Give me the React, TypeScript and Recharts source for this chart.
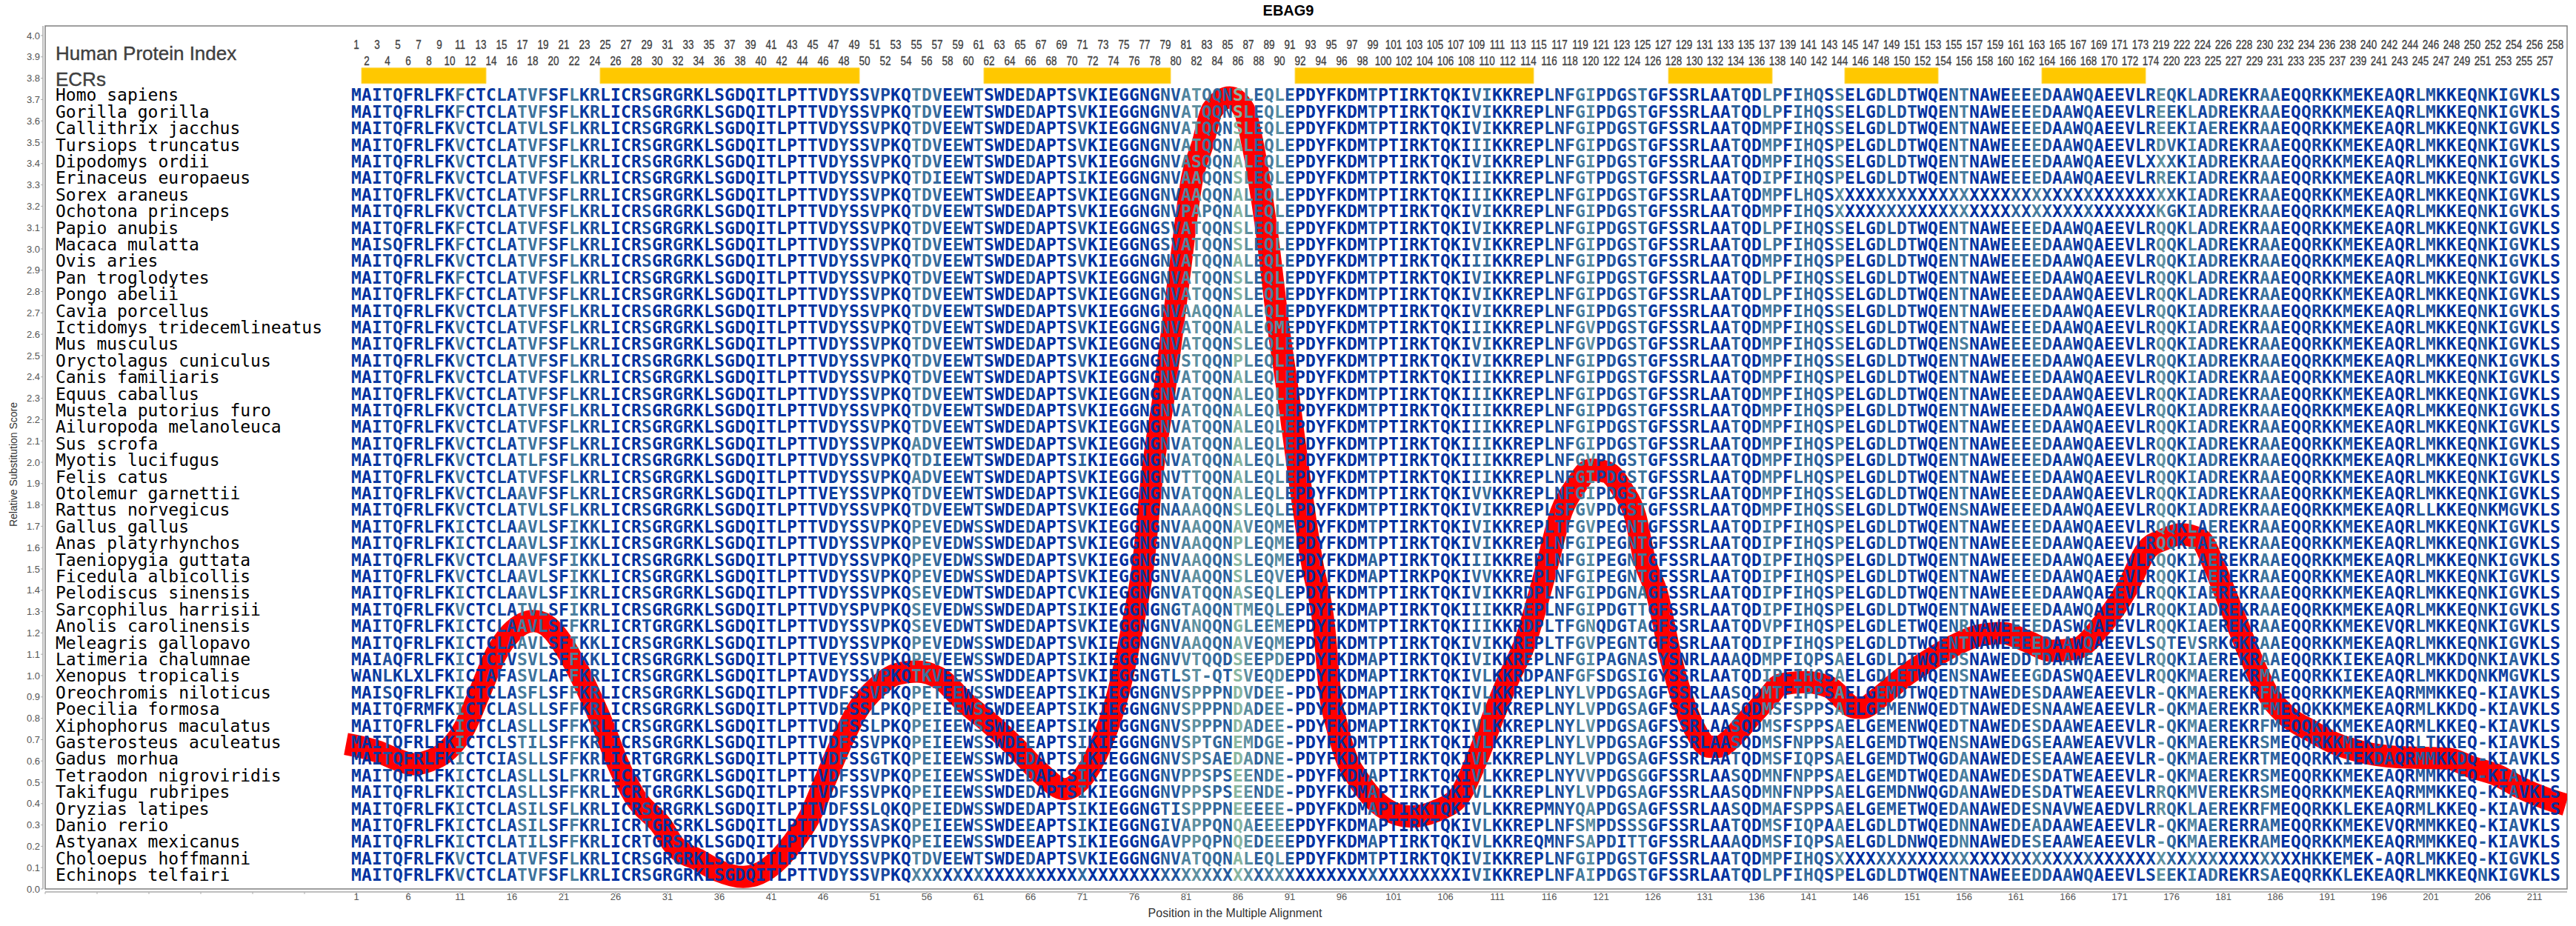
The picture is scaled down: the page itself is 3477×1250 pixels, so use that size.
import React from "react";
import { ComposedChart, Line, Scatter, XAxis, YAxis, ReferenceArea } from "recharts";

const species = ["Homo sapiens","Gorilla gorilla","Callithrix jacchus","Tursiops truncatus","Dipodomys ordii","Erinaceus europaeus","Sorex araneus","Ochotona princeps","Papio anubis","Macaca mulatta","Ovis aries","Pan troglodytes","Pongo abelii","Cavia porcellus","Ictidomys tridecemlineatus","Mus musculus","Oryctolagus cuniculus","Canis familiaris","Equus caballus","Mustela putorius furo","Ailuropoda melanoleuca","Sus scrofa","Myotis lucifugus","Felis catus","Otolemur garnettii","Rattus norvegicus","Gallus gallus","Anas platyrhynchos","Taeniopygia guttata","Ficedula albicollis","Pelodiscus sinensis","Sarcophilus harrisii","Anolis carolinensis","Meleagris gallopavo","Latimeria chalumnae","Xenopus tropicalis","Oreochromis niloticus","Poecilia formosa","Xiphophorus maculatus","Gasterosteus aculeatus","Gadus morhua","Tetraodon nigroviridis","Takifugu rubripes","Oryzias latipes","Danio rerio","Astyanax mexicanus","Choloepus hoffmanni","Echinops telfairi"];

const segA = [
"MAITQFRLFKFCTCLATVFSFLKRLICRSGRGRKLS",
"MAITQFRLFKFCTCLATVFSFLKRLICRSGRGRKLS",
"MAITQFRLFKVCTCLATVLSFLKRLICRSGRGRKLS",
"MAITQFRLFKVCTCLATVFSFLKRLICRSGRGRKLS",
"MAITQFRLFKVCTCLATVFSFLKRLICRSGRGRKLS",
"MAITQFRLFKVCTCLATVFSFLKRLICRSGRGRKLS",
"MAITQFRLFKVCTCLATVFSFLRRLICRSGRGRKLS",
"MAITQFRLFKVCTCLATVFSFLKRLICRSGRGRKLS",
"MAITQFRLFKFCTCLATVFSFLKRLICRSGRGRKLS",
"MAISQFRLFKFCTCLATVFSFLKRLICRSGRGRKLS",
"MAITQFRLFKVCTCLATVFSFLKRLICRSGRGRKLS",
"MAITQFRLFKFCTCLATVFSFLKRLICRSGRGRKLS",
"MAITQFRLFKFCTCLATVFSFLKRLICRSGRGRKLS",
"MAITQFRLFKVCTCLATVFSFLKRLICRSGRGRKLS",
"MAITQFRLFKVCTCLATVFSFLKRLICRSGRGRKLS",
"MAITQFRLFKVCTCLATVFSFLKRLICRSGRGRKLS",
"MAITQFRLFKVCTCLATVFSFLKRLICRSGRGRKLS",
"MAITQFRLFKVCTCLATVFSFLKRLICRSGRGRKLS",
"MAITQFRLFKVCTCLATVFSFLKRLICRSGRGRKLS",
"MAITQFRLFKVCTCLATVFSFLKRLICRSGRGRKLS",
"MAITQFRLFKVCTCLATVFSFLKRLICRSGRGRKLS",
"MAITQFRLFKVCTCLATVFSFLKRLICRSGRGRKLS",
"MAITQFRLFKVCTCLATLFSFLKRLICRSGRGRKLS",
"MAITQFRLFKVCTCLATVFSFLKRLICRSGRGRKLS",
"MAITQFRLFKVCTCLAAVFSFLKRLICRSGRGRKLS",
"MAITQFRLFKVCTCLATVLSFLKRLICRSGRGRKLS",
"MAITQFRLFKICTCLAAVLSFIKKLICRSGRGRKLS",
"MAITQFRLFKICTCLAAVLSFIKKLICRSGRGRKLS",
"MAITQFRLFKVCTCLAAVFSFIKKLICRSGRGRKLS",
"MAITQFRLFKVCTCLAAVLSFIKKLICRSGRGRKLS",
"MAITQFRLFKICTCLAAVLSFIKRLICRSGRGRKLS",
"MAITQFRLFKVCTCLATVLSFIKRLICRSGRGRKLS",
"MAITQFRLFKICTCLAAVLSFFKRLICRTGRGRKLS",
"MAITQFRLFKICTCLAAVLSFIKKLICRSGRGRKLS",
"MAIAQFRLFKICTCIVSVLSFFKKLICRSGRGRKLS",
"WANLKLXLFKICTAFASVLAFFKRLICRSGRGRKLS",
"MAISQFRLFKICTCLASFLSFFKRLICRSGRGRKLS",
"MAITQFRMFKICTCLASLLSFFKRLICRSGRGRKLS",
"MAITQFRLFKICTCLASLLSFFKRLICRSGRGRKLS",
"MAITQFRLFKICTCLSTILSFFKRLICRSGRGRKLS",
"MAITQFRLFKICTCIASLLSFFKRLICRTGRGRKLS",
"MAITQFRLFKICTCLASLLSLFKRLICRTGRGRKLS",
"MAITQFRLFKICTCLASLLSFFKRLICRTGRGRKLS",
"MAITQFRLFKICTCLASILSFLKRLICRSGRGRKLS",
"MAITQFRLFKICTCLASILSFFKRLICRTGRSRKLS",
"MAITQFRLFKICTCLATILSFFKRLICRTGRSRKLS",
"MAITQFRLFKVCTCLATVFSFLKRLICRSGRGRKLS",
"MAITQFRLFKVCTCLATVFSFLKRLICRSGRGRKLS",
];

const segB = [
"GDQITLPTTVDYSSVPKQTDVEEWTSWDEDAPTSV",
"GDQITLPTTVDYSSVPKQTDVEEWTSWDEDAPTSV",
"GDQITLPTTVDYSSVPKQTDVEEWTSWDEDAPTSV",
"GDQITLPTTVDYSSVPKQTDVEEWTSWDEDAPTSV",
"GDQITLPTTVDYSSVPKQTDVEEWTSWDEDAPTSV",
"GDQITLPTTVDYSSVPKQTDIEEWTSWDEDAPTSI",
"GDQITLPTTVDYSSVPKQTDVEEWTSWDEEAPTSV",
"GDQITLPTTVDYSSVPKQTDVEEWTSWDEDAPTSV",
"GDQITLPTTVDYSSVPKQTDVEEWTSWDEDAPTSV",
"GDQITLPTTVDYSSVPKQTDVEEWTSWDEDAPTSV",
"GDQITLPTTVDYSSVPKQTDVEEWTSWDEDAPTSV",
"GDQITLPTTVDYSSVPKQTDVEEWTSWDEDAPTSV",
"GDQITLPTTVDYSSVPKQTDVEEWTSWDEDAPTSV",
"GDQITLPTTVDYSSVPKQTDVEEWTSWDEDAPTSV",
"GDQITLPTTVDYSSVPKQTDVEEWTSWDEDAPTSV",
"GDQITLPTTVDYSSVPKQTDVEEWTSWDEDAPTSV",
"GDQITLPTTVDYSSVPKQTDVEEWTSWDEDAPTSV",
"GDQITLPTTVDYSSVPKQTDVEEWTSWDEDAPTSV",
"GDQITLPTTVDYSSVPKQTDVEEWTSWDEDAPTSV",
"GDQITLPTTVDYSSVPKQTDVEEWTSWDEDAPTSV",
"GDQITLPTTVDYSSVPKQTDVEEWTSWDEDAPTSV",
"GDQITLPTTVDYSSVPKQADVEEWTSWDEDAPTSV",
"GDQITLPTTVDYSSVPKQTDIEEWTSWDEDAPTSI",
"GDQITLPTTVDYSSVPKQADVEEWTSWDEDAPTSV",
"GDQITLPTTVEYSSVPKQTDVEEWTSWDEDAPTSV",
"GDQITLPTTVDYSSVPKQTDVEEWTSWDEDAPTSV",
"GDQITLPTTVDYSSVPKQPEVEDWSSWDEDAPTSV",
"GDQITLPTTVDYSSVPKQPEVEDWSSWDEDAPTSV",
"GDQITLPTTVDYSSVPKQPEVEDWSSWDEDAPTSV",
"GDQITLPTTVDYSSVPKQPEVEDWSSWDEDAPTSV",
"GDQITLPTTVDYSSVPKQSEVEDWTSWDEDAPTCV",
"GDQITLPTTVDYSPVPKQSEVEDWSSWDEDAPTSI",
"GDQITLPTTVDYSSVPKQSEVEDWTSWDEDAPTSV",
"GDQITLPTTVDYSSVPKQPEVEDWSSWDEDAPTSV",
"GDQITLPTTVEYSSVPKQPEVEEWSSWDEDAPTSI",
"GDQITLPTAVDYSSVPKQTKVEEWSSWDDEAPTSV",
"GDQITLPTTVDFSSVPKQPETEEWSSWDEEAPTSI",
"GDQITLPTTVDFSSLPKQPEIEEWSSWDEEAPTSI",
"GDQITLPTTVDFSSLPKQPEIEEWSSWDEEAPTSI",
"GDQITLPTTVDFSSVPKQPEIEEWSSWDEEAPTSI",
"GDQITLPTTVDFSSGTKQPEIEEWSSWDEDAPTSI",
"GDQITLPTTVDFSSVPKQPEIEEWSSWDEDAPTSI",
"GDQITLPTTVDFSSVPKQPEIEEWSSWDEDAPTSI",
"GDQITLPTTVDFSSLQKQPEIEDWSSWDEDAPTSI",
"GDQITLPTTVDYSSASKQPEIEEWSSWDEEAPTSI",
"GDQITLPTTVDYSSVPKQPEIEEWSSWDEEAPTSI",
"GDQITLPTTVDYSSVPKQTDVEEWTSWDEDAPTSV",
"GDQITLPTTVDYSSVPKQXXXXXXXXXXXXXXXXX",
];

const segC = [
"KIEGGNGNVATQQNSLEQLEPDYFKDMTPTIRKTQK",
"KIEGGNGNVATQQNSLEQLEPDYFKDMTPTIRKTQK",
"KIEGGNGNVATQQNSLEQLEPDYFKDMTPTIRKTQK",
"KIEGGNGNVATQQNALEQLEPDYFKDMTPTIRKTQK",
"KIEGGNGNVASQQNALEQLEPDYFKDMTPTIRKTQK",
"KIEGGNGNVAAQQNSLEQLEPDYFKDMTPTIRKTQK",
"KIEGGNGNVAAQQNALEQLEPDYFKDMTPTIRKTQK",
"KIEGGNGNVPAPQNALEQLEPDYFKDMTPTIRKTQK",
"KIEGGNGSVATQQNSLEQLEPDYFKDMTPTIRKTQK",
"KIEGGNGSVATQQNSLEQLEPDYFKDMTPTIRKTQK",
"KIEGGNGNVATQQNALEQLEPDYFKDMTPTIRKTQK",
"KIEGGNGNVATQQNSLEQLEPDYFKDMTPTIRKTQK",
"KIEGGNGNVATQQNSLEQLEPDYFKDMTPTIRKTQK",
"KIEGGNGNVAAQQNALEQLEPDYFKDMTPTIRKTQK",
"KIEGGNGNVATQQNALEQMEPDYFKDMTPTIRKTQK",
"KIEGGNGNVATQQNSLEQLEPDYFKDMTPTIRKTQK",
"KIEGGNGNVSTQQNPLEQLEPDYFKDMTPTIRKTQK",
"KIEGGNGNVATQQNALEQLEPDYFKDMTPTIRKTQK",
"KIEGGNGNVATQQNALEQLEPDYFKDMTPTIRKTQK",
"KIEGGNGNVATQQNALEQLEPDYFKDMTPTIRKTQK",
"KIEGGNGNVATQQNALEQLEPDYFKDMTPTIRKTQK",
"KIEGGNGNVATQQNALEQLEPDYFKDMTPTIRKTQK",
"KIEGGNGNVATQQNALEQLEPDYFKDMTPTIRKTQK",
"KIEGGNGNVTTQQNALEQLEPDYFKDMTPTIRKTQK",
"KIEGGNGNVATQQNALEQLEPDYFKDMTPTIRKTQK",
"KIEGGTGNAAAQQNSLEQLEPDYFKDMTPTIRKTQK",
"KIEGGNGNVAAQQNAVEQMEPDYFKDMTPTIRKTQK",
"KIEGGNGNVAAQQNPLEQMEPDYFKDMTPTIRKTQK",
"KIEGGNGNVAAQQNSLEQMEPDYFKDMAPTIRKTQK",
"KIEGGNGNVAAQQNSLEQVEPDYFKDMAPTIRKPQK",
"KIEGGNGNVATQQNASEQLEPDYFKDMTPTIRKTQK",
"KIEGGNGNGTAQQNTMEQLEPDYFKDMAPTIRKTQK",
"KIEGGNGNVANQQNGLEEMEPDYFKDMTPTIRKTQK",
"KIEGGNGNVAAQQNAVEQMEPDYFKDMTPTIRKTQK",
"KIEGGNGNVVTQQDSEEPDEPDYFKDMAPTIRKTQK",
"KIEGGNGTLST-QTSVEQDEPDYFKDMAPTIRKTQK",
"KIEGGNGNVSPPPNDVDEE-PDYFKDMAPTIRKTQK",
"KIEGGNGNVSPPPNDADEE-PDYFKDMAPTIRKTQK",
"KIEGGNGNVSPPPNDADEE-PDYFKDMAPTIRKTQK",
"KIEGGNGNVSPTGNEMDGE-PDYFKDMTPTIRKTQK",
"KIEGGNGNVSPSAEDADNE-PDYFKDMTPTIRKTQK",
"KIEGGNGNVPPSPSEENDE-PDYFKDMAPTIRKTQK",
"KIEGGNGNVPPSPSEENDE-PDYFKDMAPTIRKTQK",
"KIEGGNGTISPPPNEEEEE-PDYFKDMAPTIRKTQK",
"KIEGGNGIVAPPQNQAEEEEPDYFKDMAPTIRKTQK",
"KIEGGNGAVPPQPNQEDEEEPDYFKDMAPTIRKTQK",
"KIEGGNGNVATQQNALEQLEPDYFKDMTPTIRKTQK",
"XXXXXXXXXXXXXXXXXXXXXXXXXXXXXXXXXXXX",
];

const segD = [
"IVIKKREPLNFGIPDGSTGFSSRLAATQDLPFIHQS",
"IVIKKREPLNFGIPDGSTGFSSRLAATQDLPFIHQS",
"IVIKKREPLNFGIPDGSTGFSSRLAATQDMPFIHQS",
"IIIKKREPLNFGIPDGSTGFSSRLAATQDMPFIHQS",
"IVIKKREPLNFGIPDGSTGFSSRLAATQDMPFIHQS",
"IIIKKREPLNFGTPDGSTGFSSRLAATQDIPFIHQS",
"IIIKKREPLNFGIPDGSTGFSSRLAATQDMPFLHQS",
"IVIKKREPLNFGIPDGSTGFSSRLAATQDMPFIHQS",
"IVIKKREPLNFGIPDGSTGFSSRLAATQDLPFIHQS",
"IVIKKREPLNFGIPDGSTGFSSRLAATQDLPFIHQS",
"IIIKKREPLNFGIPDGSTGFSSRLAATQDMPFIHQS",
"IVIKKREPLNFGIPDGSTGFSSRLAATQDLPFIHQS",
"IVIKKREPLNFGIPDGSTGFSSRLAATQDLPFIHQS",
"IVIKKREPLNFGIPDGSTGFSSRLAATQDMPFIHQS",
"IIIKKREPLNFGVPDGSTGFSSRLAATQDMPFIHQS",
"IVIKKREPLNFGVPDGSTGFSSRLAATQDMPFIHQS",
"IVIKKREPLNFGIPDGSTGFSSRLAATQDMPFIHQS",
"IIIKKREPLNFGIPDGSTGFSSRLAATQDMPFIHQS",
"IIIKKREPLNFGIPDGSTGFSSRLAATQDMPFIHQS",
"IIIKKREPLNFGIPDGSTGFSSRLAATQDMPFIHQS",
"IIIKKREPLNFGIPDGSTGFSSRLAATQDMPFIHQS",
"IIIKKREPLNFGIPDGSTGFSSRLAATQDMPFIHQS",
"IIIKKREPLNFGVPDGSTGFSSRLAATQDMPFIHQS",
"IIIKKREPLNFGIPDGSTGFSSRLAATQDMPFLHQS",
"IVVKKREPLNFGIPDGSTGFSSRLAATQDMPFIHQS",
"IVIKKREPLSFGVPDGSTGFSSRLAATQDMPFIHQS",
"IVIKKREPLTFGVPEGNTGFSSRLAATQDIPFIHQS",
"IVIKKREPLNFGIPEGNTGFSSRLAATQDIPFIHQS",
"IIIKKREPLNFGIPEGNTGFSSRLAATQDIPFIHQS",
"IVVKKREPLNFGIPEGNTGFSSRLAATQDIPFIHQS",
"IVIKKRDPLNFGIPDGNAGFSSRLAATQDIPFIHQS",
"IIIKKREPLNFGIPDGTTGFSSRLAATQDIPFIHQS",
"IIIKKRDPLTFGNQDGTAGFSSRLAATQDVPFIHQS",
"IVIKKREPLTFGVPEGNTGFSSRLAATQDIPFIHQS",
"IVIKKREPLNFGIPAGNASYSNRLAAAQDMPFIQPS",
"IVLKKRDPANFGFSDGSIGYSSRLAATQDIPFIHQS",
"IVLKKREPLNYLVPDGSAGFSSRLAASQDMTFIPPS",
"IVLKKREPLNYLVPDGSAGFSSRLAASQDMSFSPPS",
"IVLKKREPLNYLVPDGSAGFSSRLAASQDMSFSPPS",
"IVLKKREPLNYLVPDGSAGFSSRLAASQDMSFNPPS",
"IVLKKREPLNYLVPDGSAGFSSRLAATQDMSFIQPS",
"IVLKKREPLNYVVPDGSGGFSSRLAASQDMNFNPPS",
"IVLKKREPLNYLVPDGSAGFSSRLAASQDMNFNPPS",
"IVLKKREPMNYQAPDGSAGFSSRLAASQDMAFSPPS",
"IVLKKREPLNFSMPDSSSGFSSRLAATQDMSFIQPA",
"IVLKKREQMNFSAPDITTGFSSRLAAAQDMSFIQPS",
"IVIKKREPLNFGIPDGSTGFSSRLAATQDMPFIHQS",
"IVIKKREPLNFAIPDGSTGFSSRLAATQDLPFIHQS",
];

const segE = [
"SELGDLDTWQENTNAWEEEEDAAWQAEEVLREQKLA",
"SELGDLDTWQENTNAWEEEEDAAWQAEEVLREEKLA",
"SELGDLDTWQENTNAWEEEEDAAWQAEEVLREEKIA",
"PELGDLDTWQENTNAWEEEEDAAWQAEEVLRDVKIA",
"SELGDLDTWQENTNAWEEEEDAAWQAEEVLXXXKIA",
"PELGDLDTWQENTNAWEEEEDAAWQAEEVLRREKIA",
"XXXXXXXXXXXXXXXXXXXXXXXXXXXXXXXXXKIA",
"XXXXXXXXXXXXXXXXXXXXXXXXXXXXXXXKGKIA",
"SELGDLDTWQENTNAWEEEEDAAWQAEEVLRQQKLA",
"SELGDLDTWQENTNAWEEEEDAAWQAEEVLRQQKLA",
"PELGDLDTWQENTNAWEEEEDAAWQAEEVLRQQKIA",
"SELGDLDTWQENTNAWEEEEDAAWQAEEVLRQQKLA",
"SELGDLDTWQENTNAWEEEEDAAWQAEEVLRQQKLA",
"SELGDLDTWQENTNAWEEEEDAAWQAEEVLRQQKIA",
"SELGDLDTWQENTNAWEEEEDAAWQAEEVLRQQKIA",
"SELGDLDTWQENSNAWEEEEDAAWQAEEVLRQQKIA",
"SELGDLDTWQENTNAWEEEEDAAWQAEEVLRQQKIA",
"PELGDLDTWQENTNAWEEEEDAAWQAEEVLRQQKIA",
"PELGDLDTWQENTNAWEEEEDAAWQAEEVLRQQKIA",
"PELGDLDTWQENTNAWEEEEDAAWQAEEVLRQQKIA",
"PELGDLDTWQENTNAWEEEEDAAWQAEEVLRQQKIA",
"PELGDLDTWQENTNAWEEEEDAAWQAEEVLRQQKIA",
"PELGDLDTWQENTNAWEEEEDAAWQAEEVLRQQKIA",
"PELGDLDTWQENTNAWEEEEDAAWQAEEVLRQQKIA",
"SELGDLDTWQENTNAWEEEEDAAWQAEEVLRQQKIA",
"SELGDLDTWQENSNAWEEEEDAAWQAEEVLRQQKIA",
"PELGDLDTWQENTNAWEEEEDAAWQAEEVLRQQKLA",
"PELGDLDTWQENTNAWEEEEDAAWQAEEVLRQQKIA",
"PELGDLDTWQENTNAWEEEEDAAWQAEEVLRQQKIA",
"PELGDLDTWQENTNAWEEEEDAAWQAEEVLRQQKIA",
"PELGDLDTWQENTNAWEEEEDAAWQAEEVLRQQKIA",
"PELGDLDTWQENTNAWEEEEDAAWQAEEVLRQQKIA",
"PELGDLETWQENRNAWEEEEDASWQAEEVLRQQKIA",
"PELGDLDTWQENTNAWEEEEDAAWQAEEVLSQTEVS",
"AELGDLDTWQEDSNAWEDDTDAAWEAEEVLRQQKIA",
"AELGDLETWQENSNAWEEEGDASWQAEEVLRQQKMA",
"AELGEMDTWQEDTNAWEDESDAAWEAEEVLR-QKMA",
"AELGEMENWQEDTNAWEDESNAAWEAEEVLR-QKMA",
"AELGEMENWQEDTNAWEDESDAAWEAEEVLR-QKMA",
"AELGEMDTWQENSNAWEDGSEAAWEAEVVLR-QKMA",
"AELGEMDTWQGDANAWEDESEAAWEAEEVLR-QKMA",
"AELGEMDTWQEDANAWEDESDATWEAEEVLR-QKMA",
"AELGEMDNWQGDANAWEDESDATWEAEEVLRRQKMV",
"AELGEMETWQEDANAWEDESNAVWEAEDVLRRQKLA",
"AELGDLDTWQEDNNAWEDEADAAWEAEEVLR-QKMA",
"AELGDLDNWQEDNNAWEDESEAAWEAEEVLR-QKMA",
"XXXXXXXXXXXXXXXXXXXXXXXXXXXXXXXXXXXX",
"PELGDLDTWQENTNAWEEEDDAAWQAEEVLSEEKIA",
];

const segF = [
"DREKRAAEQQRKKMEKEAQRLMKKEQNKIGVKLS",
"DREKRAAEQQRKKMEKEAQRLMKKEQNKIGVKLS",
"EREKRAAEQQRKKMEKEAQRLMKKEQNKIGVKLS",
"DREKRAAEQQRKKMEKEAQRLMKKEQNKIGVKLS",
"DREKRAAEQQRKKMEKEAQRLMKKEQNKIGVKLS",
"DREKRAAEQQRKKMEKEAQRLMKKEQNKIGVKLS",
"DREKRAAEQQRKKMEKEAQRLMKKEQNKIGVKLS",
"DREKRAAEQQRKKMEKEAQRLMKKEQNKIGVKLS",
"DREKRAAEQQRKKMEKEAQRLMKKEQNKIGVKLS",
"DREKRAAEQQRKKMEKEAQRLMKKEQNKIGVKLS",
"DREKRAAEQQRKKMEKEAQRLMKKEQNKIGVKLS",
"DREKRAAEQQRKKMEKEAQRLMKKEQNKIGVKLS",
"DREKRAAEQQRKKMEKEAQRLMKKEQNKIGVKLS",
"DREKRAAEQQRKKMEKEAQRLMKKEQNKIGVKLS",
"DREKRAAEQQRKKMEKEAQRLMKKEQNKIGVKLS",
"DREKRAAEQQRKKMEKEAQRLMKKEQNKIGVKLS",
"DREKRAAEQQRKKMEKEAQRLMKKEQNKIGVKLS",
"DREKRAAEQQRKKMEKEAQRLMKKEQNKIGVKLS",
"DREKRAAEQQRKKMEKEAQRLMKKEQNKIGVKLS",
"DREKRAAEQQRKKMEKEAQRLMKKEQNKIGVKLS",
"DREKRAAEQQRKKMEKEAQRLMKKEQNKIGVKLS",
"DREKRAAEQQRKKMEKEAQRLMKKEQNKIGVKLS",
"DREKRAAEQQRKKMEKEAQRLMKKEQNKIGVKLS",
"DREKRAAEQQRKKMEKEAQRLMKKEQNKIGVKLS",
"DREKRAAEQQRKKMEKEAQRLMKKEQNKIGVKLS",
"DREKRAAEQQRKKMEKEAQRLLKKEQNKMGVKLS",
"EREKRAAEQQRKKMEKEAQRLMKKEQNKIGVKLS",
"EREKRAAEQQRKKMEKEAQRLMKKEQNKIGVKLS",
"EREKRAAEQQRKKMEKEAQRLMKKEQNKIGVKLS",
"EREKRAAEQQRKKMEKEAQRLMKKEQNKIGVKLS",
"EREKRAAEQQRKKMEKEAQRLMKKEQNKIGVKLS",
"DREKRAAEQQRKKMEKEAQRLMKKEQNKIGVKLS",
"EREKRAAEQQRKKMEKEVQRLMKKEQNKIGVKLS",
"RKGKRAAEQQRKKMEKEAQRLMKKEQNKIGVKLS",
"EREKRAAEQQRKKIEKEAQRLMKKDQNKIAVKLS",
"EREKRMAEQQRKKIEKEAQRLMKKDQNKMGVKLS",
"EREKRFMEQQRKKMEKEAQRMMKKEQ-KIAVKLS",
"EREKRFMEQQKKKMEKEAQRMLKKDQ-KIAVKLS",
"EREKRFMEQQKKKMEKEAQRMLKKEQ-KIAVKLS",
"EREKRSMEQQRKKMEKDVQRLTKKEQ-KIAVKLS",
"EREKRTMEQQRKKIEKDAQRMMKKDQ-KIAVKLS",
"EREKRSMEQQRKKMEKEAQRMMKKEQ-KIAVKLS",
"EREKRSMEQQRKKMEKEAQRMMKKEQ-KIAVKLS",
"EREKRFMEQQRKKLEKEAQRMLKKEQ-KIAVKLS",
"ERERRAMEQQRKKMEKEVQRMMKKEQ-KIAVKLS",
"EREKRAMEQQRKKMEKEAQRMMKKEQ-KIAVKLS",
"XXXXXXXXXHKKEMEK-AQRLMKKEQ-KIGVKLS",
"DREKRSAEQQRKKLEKEAQRLMKKEQNKIGVKLS",
];

const humanIndex = "1 2 3 4 5 6 7 8 9 10 11 12 13 14 15 16 17 18 19 20 21 22 23 24 25 26 27 28 29 30 31 32 33 34 35 36 37 38 39 40 41 42 43 44 45 46 47 48 49 50 51 52 53 54 55 56 57 58 59 60 61 62 63 64 65 66 67 68 69 70 71 72 73 74 75 76 77 78 79 80 81 82 83 84 85 86 87 88 89 90 91 92 93 94 95 96 97 98 99 100 101 102 103 104 105 106 107 108 109 110 111 112 113 114 115 116 117 118 119 120 121 122 123 124 125 126 127 128 129 130 131 132 133 134 135 136 137 138 139 140 141 142 143 144 145 146 147 148 149 150 151 152 153 154 155 156 157 158 159 160 161 162 163 164 165 166 167 168 169 170 171 172 173 174 219 220 222 223 224 225 226 227 228 229 230 231 232 233 234 235 236 237 238 239 240 241 242 243 244 245 246 247 248 249 250 251 252 253 254 255 256 257 258".split(" ");

const ecrStart = [2, 25, 62, 92, 128, 145, 164];
const ecrEnd = [13, 49, 79, 114, 137, 153, 173];

const curvePositions = [0,3,5,6.5,8,9.4,11.4,12.8,14.5,15.9,18.1,19.3,21.9,23.5,24.9,26.2,27.8,30.5,31.6,34.1,35.9,38.3,40.7,43.1,44.7,46.2,47.8,49.3,51.2,53.1,55,57.4,59.7,62.1,64.5,66.9,69.3,71,72.8,74.4,75.8,76.9,77.7,78.9,80.3,81.6,82.6,83.5,85.2,86.6,87.4,88.7,89.9,90.8,91.9,93.1,94.3,94.9,95.6,96.5,97.5,98.8,100.2,102.6,105,107.4,108.8,110.8,112.1,113.6,115.5,117.2,118.6,120,121.6,123.1,124.3,125.2,126.4,127.8,128.8,130,131.4,132.4,133.5,135.5,137.1,138.3,140.7,143,145.5,146.2,147.8,149,150.2,152.6,155,157.4,159.7,162.1,164.5,166.9,169.3,171.7,173.6,175.2,176.9,178.8,180,181.2,183.6,185.2,187.1,189.5,191.9,194.3,197.8,202.6,205,207.4,209.7,212.1,214];
const curveScores = [0.68,0.645,0.605,0.585,0.6,0.635,0.752,0.91,1.104,1.2,1.256,1.237,1.067,0.91,0.752,0.589,0.436,0.291,0.206,0.133,0.085,0.056,0.097,0.218,0.339,0.509,0.691,0.837,0.946,1.007,1.019,0.982,0.873,0.776,0.667,0.546,0.468,0.52,0.679,0.91,1.225,1.54,1.93,2.33,2.863,3.336,3.494,3.65,3.71,3.65,3.494,3.106,2.632,2.33,1.93,1.54,1.225,0.91,0.752,0.606,0.521,0.436,0.376,0.339,0.364,0.44,0.582,0.832,0.987,1.145,1.46,1.771,1.892,1.965,1.953,1.868,1.747,1.54,1.383,1.067,0.897,0.752,0.667,0.667,0.703,0.812,0.897,0.958,0.97,0.946,0.85,0.849,0.897,0.946,0.994,1.072,1.14,1.188,1.2,1.16,1.116,1.128,1.237,1.407,1.589,1.637,1.662,1.637,1.528,1.383,1.091,0.922,0.812,0.74,0.679,0.643,0.618,0.611,0.57,0.533,0.473,0.424,0.395];

const scoreTicks = [0,0.1,0.2,0.3,0.4,0.5,0.6,0.7,0.8,0.9,1,1.1,1.2,1.3,1.4,1.5,1.6,1.7,1.8,1.9,2,2.1,2.2,2.3,2.4,2.5,2.6,2.7,2.8,2.9,3,3.1,3.2,3.3,3.4,3.5,3.6,3.7,3.8,3.9,4];
const positionTicks = [-29,-24,-19,-14,-9,-4,1,6,11,16,21,26,31,36,41,46,51,56,61,66,71,76,81,86,91,96,101,106,111,116,121,126,131,136,141,146,151,156,161,166,171,176,181,186,191,196,201,206,211];

const rows = species.map((_, i) => segA[i] + segB[i] + segC[i] + segD[i] + segE[i] + segF[i]);

const variability = Array.from({ length: rows[0].length }, (_, c) => {
  const counts: Record<string, number> = {};
  let n = 0;
  rows.forEach((r) => {
    const ch = r[c];
    if (ch && ch !== "X") { counts[ch] = (counts[ch] || 0) + 1; n++; }
  });
  let h = 0;
  Object.values(counts).forEach((k) => { const p = k / n; h -= p * Math.log2(p); });
  return h;
});

const STOPS = [
  [0, 0, 48, 160],
  [0.35, 20, 70, 160],
  [1.0, 55, 110, 155],
  [1.7, 95, 145, 160],
  [2.5, 150, 195, 160],
];
function tint(h: number) {
  for (let i = 1; i < STOPS.length; i++) {
    if (h <= STOPS[i][0]) {
      const a = STOPS[i - 1], b = STOPS[i];
      const t = (h - a[0]) / (b[0] - a[0]);
      const m = (j: number) => Math.round(a[j] + (b[j] - a[j]) * t);
      return `rgb(${m(1)},${m(2)},${m(3)})`;
    }
  }
  const l = STOPS[STOPS.length - 1];
  return `rgb(${l[1]},${l[2]},${l[3]})`;
}

const curve = curvePositions.map((pos, i) => ({ pos, score: curveScores[i] }));
const cells: { pos: number; row: number; ch: string; color: string }[] = [];
rows.forEach((r, row) => {
  for (let c = 0; c < r.length; c++) cells.push({ pos: c + 1, row, ch: r[c], color: tint(variability[c]) });
});
const speciesLabels = species.map((name, row) => ({ pos: -28, row, name }));
const indexLabels = humanIndex.map((label, i) => ({ pos: i + 1, row: i % 2 === 0 ? -3.04 : -2.05, label }));
const headers = [
  { pos: -28, row: -2.5, name: "Human Protein Index" },
  { pos: -28, row: -0.94, name: "ECRs" },
];

const LetterShape = (p: any) => (
  <text x={p.cx} y={p.cy + 8.4} textAnchor="middle" fontFamily="'DejaVu Sans Mono'" fontWeight="bold" fontSize={23} fill={p.payload.color}>{p.payload.ch}</text>
);
const SpeciesShape = (p: any) => (
  <text x={p.cx} y={p.cy + 8.4} textAnchor="start" fontFamily="'DejaVu Sans Mono'" fontSize={23} fill="#000">{p.payload.name}</text>
);
const HeaderShape = (p: any) => (
  <text x={p.cx} y={p.cy + 9} textAnchor="start" fontFamily="'Liberation Sans'" fontSize={26} fill="#404040" stroke="#404040" strokeWidth={0.4}>{p.payload.name}</text>
);
const IndexShape = (p: any) => (
  <text transform={`translate(${p.cx},${p.cy + 6}) scale(0.82,1)`} textAnchor="middle" fontFamily="'Liberation Sans'" fontSize={16.5} fill="#404040" stroke="#404040" strokeWidth={0.3}>{p.payload.label}</text>
);

const tickStyle = { fill: "#555", fontSize: 13, fontFamily: "'Liberation Sans'" };

export default function App() {
  return (
    <div style={{ position: "absolute", left: 0, top: 0, width: 3477, height: 1250, background: "#fff" }}>
      <style>{`.ax-y{transform:translateX(-3px)}.ax-x{transform:translateY(4px)}`}</style>
      <ComposedChart width={3477} height={1250} margin={{ top: 35, right: 12, bottom: 0, left: 0 }}>
        <XAxis xAxisId={0} dataKey="pos" type="number" domain={[-29, 214.14]} ticks={positionTicks} interval={0} className="ax-x"
          height={50} tickSize={3} tickMargin={3} stroke="#aaa" axisLine={{ stroke: "#aaa", strokeWidth: 1.5 }} tick={tickStyle}
          tickFormatter={(v: number) => (v < 1 ? "" : String(v))} allowDataOverflow />
        <YAxis yAxisId={0} type="number" domain={[0, 4.045]} ticks={scoreTicks} interval={0} className="ax-y"
          width={61} tickSize={3} tickMargin={4} stroke="#aaa" axisLine={{ stroke: "#aaa", strokeWidth: 1.5 }} tick={tickStyle}
          tickFormatter={(v: number) => v.toFixed(1)} allowDataOverflow />
        <YAxis yAxisId="row" dataKey="row" type="number" domain={[-4.152, 47.857]} reversed hide allowDataOverflow />
        <ReferenceArea yAxisId={0} x1={-29} x2={214.14} y1={0} y2={4.045} fill="none" stroke="#808080" strokeWidth={1.5} />
        {ecrStart.map((s, i) => (
          <ReferenceArea key={s} yAxisId="row" x1={s - 0.5} x2={ecrEnd[i] + 0.5} y1={-1.62} y2={-0.683} fill="#ffc800" fillOpacity={1} stroke="#ffd84a" />
        ))}
        <Line data={curve} dataKey="score" yAxisId={0} type="monotone" stroke="#ff0000" strokeWidth={30} dot={false} legendType="none" strokeLinejoin="round" isAnimationActive={false} />
        <Scatter data={cells} dataKey="row" yAxisId="row" shape={LetterShape} isAnimationActive={false} />
        <Scatter data={speciesLabels} dataKey="row" yAxisId="row" shape={SpeciesShape} isAnimationActive={false} />
        <Scatter data={headers} dataKey="row" yAxisId="row" shape={HeaderShape} isAnimationActive={false} />
        <Scatter data={indexLabels} dataKey="row" yAxisId="row" shape={IndexShape} isAnimationActive={false} />
        <text x={1739} y={21} textAnchor="middle" fontFamily="'Liberation Sans'" fontWeight="bold" fontSize={20} fill="#000">EBAG9</text>
        <text x={1667} y={1238} textAnchor="middle" fontFamily="'Liberation Sans'" fontSize={16} fill="#333">Position in the Multiple Alignment</text>
        <text transform="translate(23,627) rotate(-90)" textAnchor="middle" fontFamily="'Liberation Sans'" fontSize={14} fill="#333">Relative Substitution Score</text>
      </ComposedChart>
    </div>
  );
}
